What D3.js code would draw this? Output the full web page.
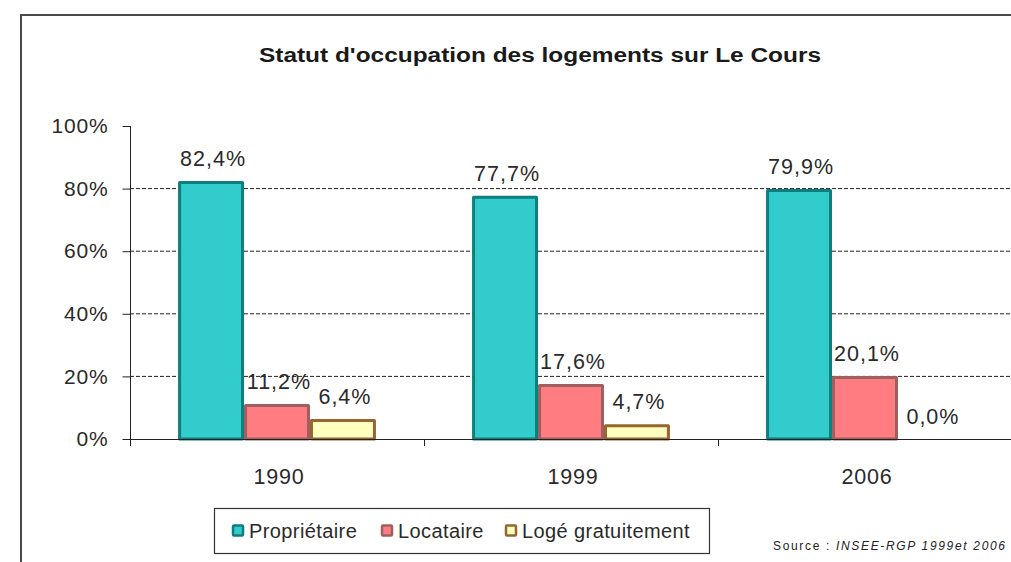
<!DOCTYPE html>
<html>
<head>
<meta charset="utf-8">
<script src="https://cdn.jsdelivr.net/npm/d3@7/dist/d3.min.js"></script>
<style>
  html, body { margin: 0; padding: 0; background: #fff; }
  svg { display: block; font-family: "Liberation Sans", Arial, sans-serif; }
</style>
</head>
<body>
<svg id="chart" width="1011" height="562"></svg>
<script>
// Housing occupancy status, by census year
const years = ["1990", "1999", "2006"];
const seriesNames = ["Propriétaire", "Locataire", "Logé gratuitement"];
const proprietaire = [82.4, 77.7, 79.9];
const locataire = [11.2, 17.6, 20.1];
const logeGratuit = [6.4, 4.7, 0.0];
const yTicks = [0, 20, 40, 60, 80, 100];

const fills = ["#33CCCC", "#FF7C80", "#FFFFC0"];
const strokes = ["#0E7E7E", "#9E5F5F", "#98652F"];

const values = [proprietaire, locataire, logeGratuit];
const rows = years.map((yr, i) => ({
  year: yr,
  items: seriesNames.map((s, k) => ({ series: s, k, value: values[k][i] }))
}));

const svg = d3.select("#chart");
const fmt = v => v.toFixed(1).replace(".", ",") + "%";

// outer frame
svg.append("rect")
  .attr("x", 21).attr("y", 15).attr("width", 1030).attr("height", 580)
  .attr("fill", "#fff").attr("stroke", "#4a4a4a").attr("stroke-width", 2);

// title
svg.append("text")
  .attr("x", 540).attr("y", 62)
  .attr("text-anchor", "middle")
  .attr("font-size", 20).attr("font-weight", "bold")
  .attr("fill", "#1a1a1a")
  .attr("textLength", 562).attr("lengthAdjust", "spacingAndGlyphs")
  .text("Statut d'occupation des logements sur Le Cours");

const x0 = d3.scaleBand().domain(years).range([130, 1012])
  .paddingInner(0.327).paddingOuter(0.1635);
const x1 = d3.scaleBand().domain(seriesNames).range([0, x0.bandwidth()]);
const y = d3.scaleLinear().domain([0, 100]).range([439, 126]);

// dashed gridlines
svg.append("g")
  .selectAll("line")
  .data(yTicks.filter(t => t > 0 && t < 100))
  .join("line")
  .attr("x1", 130).attr("x2", 1011)
  .attr("y1", d => y(d)).attr("y2", d => y(d))
  .attr("stroke", "#222").attr("stroke-width", 1)
  .attr("stroke-dasharray", "4,2");

// y axis
const yAxis = d3.axisLeft(y).tickValues(yTicks).tickSize(8).tickPadding(14)
  .tickFormat(d => d + "%");
const gy = svg.append("g").attr("transform", "translate(130.5,0)").call(yAxis);
gy.select(".domain").attr("stroke", "#222").attr("d", `M0,${y(100)}V${y(0)}`);
gy.selectAll(".tick line").attr("stroke", "#222");
gy.selectAll(".tick text")
  .attr("font-size", 21).attr("fill", "#2a2a2a")
  .attr("letter-spacing", 0.8)
  .attr("font-family", "Liberation Sans, Arial, sans-serif");

// bars
const groups = svg.append("g").selectAll("g")
  .data(rows)
  .join("g")
  .attr("transform", d => `translate(${x0(d.year)},0)`);

groups.selectAll("rect")
  .data(d => d.items.filter(it => it.value > 0))
  .join("rect")
  .attr("x", d => x1(d.series) + 1.5)
  .attr("width", x1.bandwidth() - 3)
  .attr("y", d => y(d.value) + 1.5)
  .attr("height", d => y(0) - y(d.value) - 1.5)
  .attr("fill", d => fills[d.k])
  .attr("stroke", d => strokes[d.k])
  .attr("stroke-width", 3)
  .attr("stroke-linejoin", "round");

// value labels
groups.selectAll("text")
  .data(d => d.items)
  .join("text")
  .attr("x", d => x1(d.series) + x1.bandwidth() / 2 + 2)
  .attr("y", d => y(d.value) - 15)
  .attr("text-anchor", "middle")
  .attr("font-size", 21.5).attr("fill", "#2a2a2a")
  .attr("letter-spacing", 1)
  .text(d => fmt(d.value));

// x axis
const xAxisLine = svg.append("g");
xAxisLine.append("line")
  .attr("x1", 130).attr("x2", 1011).attr("y1", 439.5).attr("y2", 439.5)
  .attr("stroke", "#222");
const boundaries = [130].concat(years.map(yr => x0(yr) + x0.bandwidth() + x0.step() * x0.paddingInner() / 2));
xAxisLine.selectAll("line.tk")
  .data(boundaries.filter(b => b < 1011))
  .join("line").attr("class", "tk")
  .attr("x1", d => Math.round(d) + 0.5).attr("x2", d => Math.round(d) + 0.5)
  .attr("y1", 439).attr("y2", 446)
  .attr("stroke", "#222");
xAxisLine.selectAll("text")
  .data(years)
  .join("text")
  .attr("x", d => x0(d) + x0.bandwidth() / 2 + 2)
  .attr("y", 484)
  .attr("text-anchor", "middle")
  .attr("font-size", 21.5).attr("fill", "#2a2a2a")
  .attr("letter-spacing", 0.8)
  .text(d => d);

// legend
const legend = svg.append("g");
legend.append("rect")
  .attr("x", 214.5).attr("y", 508.5).attr("width", 495).attr("height", 45)
  .attr("fill", "#fff").attr("stroke", "#333").attr("stroke-width", 1.2);
const legendX = [232, 381, 505];
seriesNames.forEach((s, k) => {
  legend.append("rect")
    .attr("x", legendX[k] + 1).attr("y", 525.5).attr("width", 10).attr("height", 10)
    .attr("fill", fills[k]).attr("stroke", strokes[k]).attr("stroke-width", 2.5)
    .attr("rx", 1);
  legend.append("text")
    .attr("x", legendX[k] + 17).attr("y", 538)
    .attr("font-size", 20).attr("fill", "#2a2a2a")
    .attr("letter-spacing", 0.4)
    .text(s);
});

// source note
const src = svg.append("text")
  .attr("x", 773).attr("y", 550)
  .attr("font-size", 12).attr("fill", "#222")
  .attr("textLength", 232).attr("lengthAdjust", "spacing");
src.append("tspan").text("Source : ");
src.append("tspan").attr("font-style", "italic").text("INSEE-RGP 1999et 2006");
</script>
</body>
</html>
